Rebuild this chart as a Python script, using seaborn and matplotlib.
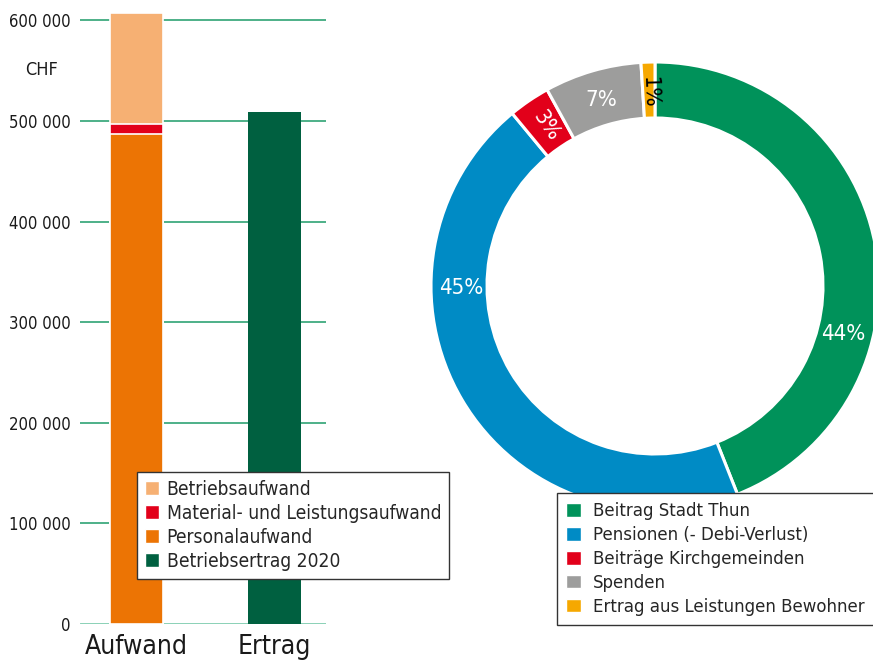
import numpy as np
import pandas as pd
import matplotlib
matplotlib.use("Agg")
import matplotlib.pyplot as plt
from matplotlib import font_manager
from matplotlib.patches import Patch
import seaborn as sns

# --- data -----------------------------------------------------------------
categories = ["Aufwand", "Ertrag"]
personalaufwand = 487000
materialaufwand = 10000
betriebsaufwand = 110000
betriebsertrag = 509000
bar_labels = ["Betriebsaufwand", "Material- und Leistungsaufwand",
              "Personalaufwand", "Betriebsertrag 2020"]
bar_colors = ["#f6b073", "#e2001a", "#ec7404", "#006040"]
y_ticks = [0, 100000, 200000, 300000, 400000, 500000, 600000]

pie_labels = ["Beitrag Stadt Thun", "Pensionen (- Debi-Verlust)",
              "Beiträge Kirchgemeinden", "Spenden",
              "Ertrag aus Leistungen Bewohner"]
pie_values = [44, 45, 3, 7, 1]
pie_colors = ["#00925a", "#008bc5", "#e2001a", "#9d9d9c", "#f6a800"]

# label placement tweaks (degrees shift from wedge middle, rotation, colour)
label_shift = [-25, -30, 0, 0, 0]
label_rot = [0, 0, -56, 0, -88]
label_col = ["white", "white", "white", "white", "black"]

# --- style ----------------------------------------------------------------
sns.set_style("white")
names = {f.name for f in font_manager.fontManager.ttflist}
if "Liberation Sans Narrow" in names:
    plt.rcParams["font.family"] = ["Liberation Sans Narrow", "DejaVu Sans"]
else:
    plt.rcParams["font.family"] = ["DejaVu Sans"]
    plt.rcParams["font.stretch"] = "condensed"

W, H = 873, 664
fig = plt.figure(figsize=(W / 100, H / 100), dpi=100)

# --- stacked bars ---------------------------------------------------------
ax = fig.add_axes([80 / W, 40 / H, 246 / W, 613.7 / H])
grid_col = "#2fa374"
for t in y_ticks[1:]:
    ax.axhline(t, color=grid_col, lw=1.2, zorder=0)
ax.axhline(0, color="#80cdb0", lw=2, zorder=0)

layers = [
    (personalaufwand + materialaufwand + betriebsaufwand, bar_colors[0]),
    (personalaufwand + materialaufwand, bar_colors[1]),
    (personalaufwand, bar_colors[2]),
]
for total, col in layers:
    sns.barplot(x=[categories[0]], y=[total], order=categories, color=col,
                width=0.384, edgecolor="white", linewidth=1.2, saturation=1,
                ax=ax, zorder=2)
sns.barplot(x=[categories[1]], y=[betriebsertrag], order=categories,
            color=bar_colors[3], width=0.384, saturation=1, linewidth=0,
            ax=ax, zorder=2)

ax.set_xlim(-0.41, 1.373)
ax.set_ylim(0, 610000)
ax.set_yticks(y_ticks)
ax.set_yticklabels([f"{v:,}".replace(",", " ") for v in y_ticks])
ax.tick_params(axis="y", length=0, pad=6.5, labelsize=12, labelcolor="#1a1a1a")
ax.tick_params(axis="x", length=0, pad=7, labelsize=19, labelcolor="#1a1a1a")
ax.set_xlabel("")
ax.set_ylabel("")
sns.despine(ax=ax, left=True, bottom=True)
fig.text(41 / W, 1 - 70 / H, "CHF", ha="center", va="center", fontsize=13,
         color="#1a1a1a")

handles = [Patch(facecolor=c, label=l) for c, l in zip(bar_colors, bar_labels)]
leg = fig.legend(handles=handles, loc="upper left",
                 bbox_to_anchor=(137 / W, 1 - 472 / H), fontsize=13.75,
                 frameon=True, fancybox=False, framealpha=1,
                 edgecolor="#333333", borderpad=0.4, labelspacing=0.27,
                 handlelength=0.75, handleheight=0.75, handletextpad=0.4,
                 borderaxespad=0)
leg.get_frame().set_linewidth(1)

# --- donut ----------------------------------------------------------------
R = 224
pax = fig.add_axes([(655 - R) / W, (H - 286 - R) / H, 2 * R / W, 2 * R / H])
pax.pie(pie_values, colors=pie_colors, startangle=90, counterclock=False,
        wedgeprops=dict(width=0.25, edgecolor="white", linewidth=2.2))
pax.set_xlim(-1, 1)
pax.set_ylim(-1, 1)
pax.set_aspect("auto")
pax.axis("off")

total = sum(pie_values)
start = 90.0
for v, shift, rot, col in zip(pie_values, label_shift, label_rot, label_col):
    span = 360.0 * v / total
    mid = np.deg2rad(start - span / 2 + shift)
    pax.text(0.865 * np.cos(mid), 0.865 * np.sin(mid), f"{v}%", ha="center",
             va="center", rotation=rot, fontsize=16, color=col)
    start -= span

# the reference legend frame runs past the right edge of the picture
handles = [Patch(facecolor=c, label=l) for c, l in zip(pie_colors, pie_labels)]
leg2 = fig.legend(handles=handles, loc="upper left",
                  bbox_to_anchor=(557 / W, 0, 330 / W, 1 - 493 / H),
                  mode="expand", fontsize=13.3,
                  frameon=True, fancybox=False, framealpha=1,
                  edgecolor="#333333", borderpad=0.5, labelspacing=0.32,
                  handlelength=0.78, handleheight=0.78, handletextpad=0.65,
                  borderaxespad=0)
leg2.get_frame().set_linewidth(1)

fig.savefig("out.png", dpi=100)
